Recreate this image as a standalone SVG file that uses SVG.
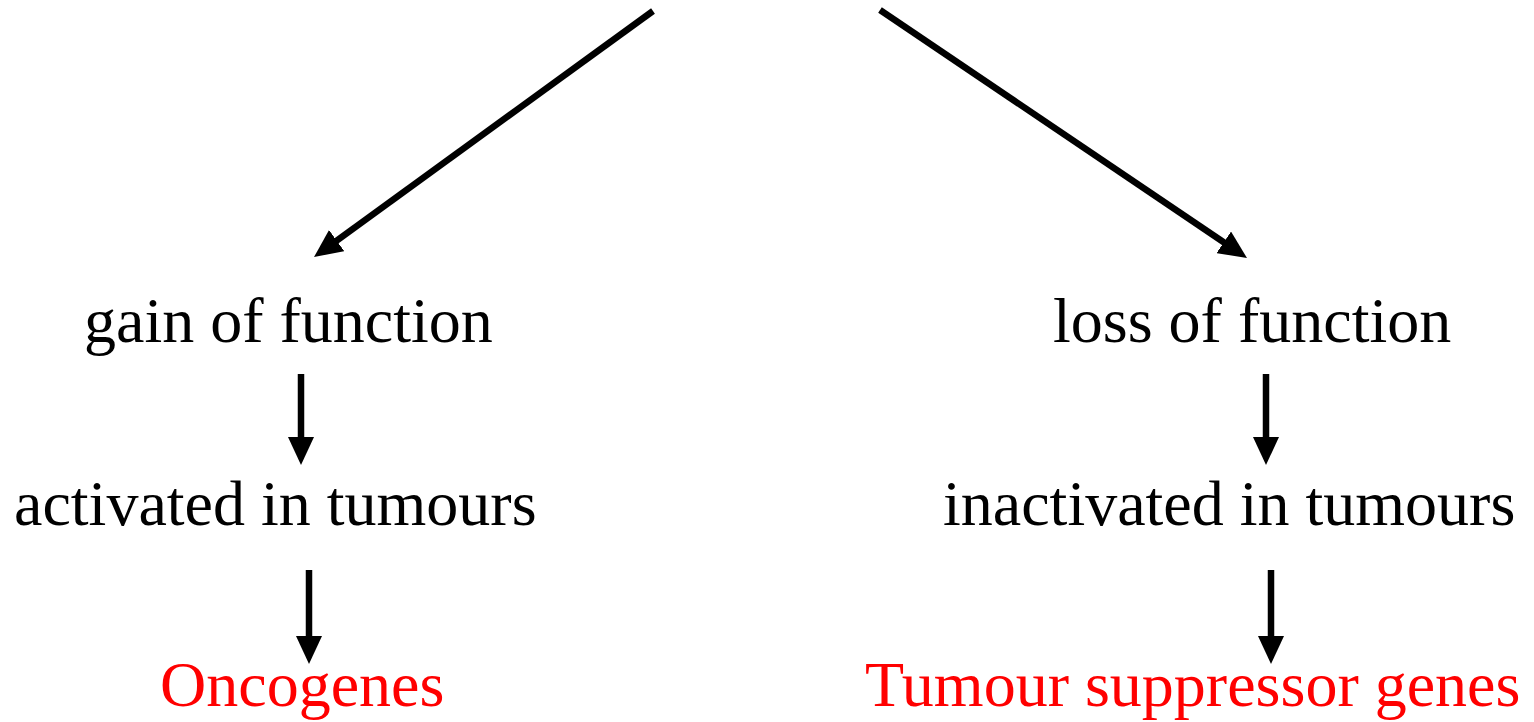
<svg xmlns="http://www.w3.org/2000/svg" width="1534" height="722" viewBox="0 0 1534 722">
<style>
.t{font-family:"Liberation Serif","Times New Roman",serif;font-size:64px;fill:#000}
.r{fill:#ff0000}
.c{stroke:#000;stroke-width:6.5;fill:none}
</style>
<defs>
<marker id="ah" markerUnits="userSpaceOnUse" markerWidth="28" markerHeight="26" refX="8" refY="13" orient="auto">
<path d="M0,0 L28,13 L0,26 Z" fill="#000"/>
</marker>
</defs>
<rect width="1534" height="722" fill="#fff"/>
<g id="connectors">
<line class="c" x1="653" y1="11" x2="330.2" y2="245.3" marker-end="url(#ah)"/>
<line class="c" x1="880" y1="10" x2="1230.4" y2="246.8" marker-end="url(#ah)"/>
<line class="c" x1="301" y1="374" x2="301" y2="445" marker-end="url(#ah)"/>
<line class="c" x1="309" y1="570" x2="309" y2="644" marker-end="url(#ah)"/>
<line class="c" x1="1266" y1="374" x2="1266" y2="445" marker-end="url(#ah)"/>
<line class="c" x1="1271" y1="570" x2="1271" y2="644" marker-end="url(#ah)"/>
</g>
<g id="gain"><text class="t" x="84" y="342">gain of function</text></g>
<g id="activated"><text class="t" x="14" y="525">activated in tumours</text></g>
<g id="oncogenes"><text class="t r" x="160" y="706">Oncogenes</text></g>
<g id="loss"><text class="t" x="1053" y="342">loss of function</text></g>
<g id="inactivated"><text class="t" x="943" y="525">inactivated in tumours</text></g>
<g id="tsg"><text class="t r" x="865" y="706">Tumour suppressor genes</text></g>
</svg>
